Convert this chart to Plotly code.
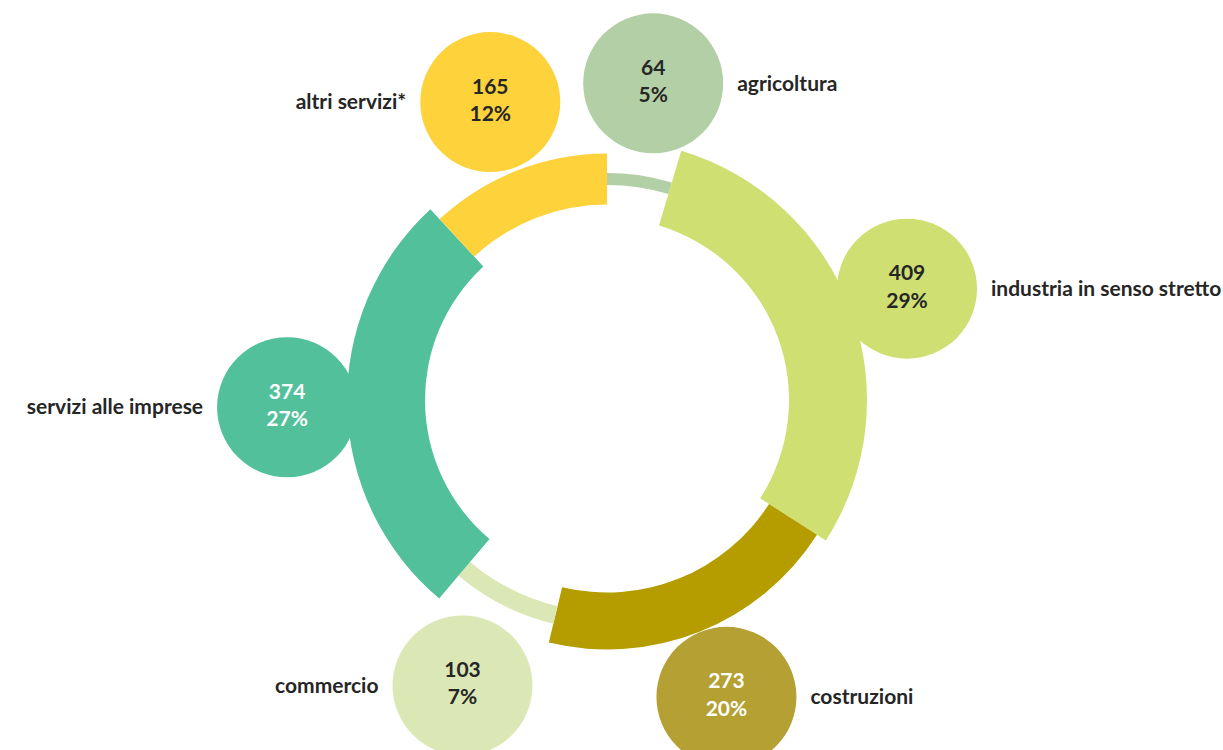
import math
import plotly.graph_objects as go

# Dati: occupati per settore
settori = ["agricoltura", "industria in senso stretto", "costruzioni",
           "commercio", "servizi alle imprese", "altri servizi*"]
valori = [64, 409, 273, 103, 374, 165]
percentuali = [5, 29, 20, 7, 27, 12]

# Stile
colori_arco = ["#b3cfa6", "#cfdf72", "#b59d00", "#dbe8b6", "#52c09a", "#fdd23a"]
colori_bolla = ["#b3cfa6", "#cfdf72", "#b4a033", "#dbe8b6", "#52c09a", "#fdd23a"]
colori_testo = ["#262626", "#262626", "#ffffff", "#262626", "#ffffff", "#262626"]
spessore_arco = [12, 78, 57, 18, 78, 51]

W, H = 1223, 750
CX, CY = 607, 400          # centro dell'anello (px)
R_POLAR = 350              # raggio dell'area polare (px)
R_MEDIO = 221              # raggio medio degli archi
R_BOLLA = 320              # distanza delle bolle dal centro
D_BOLLA = 140              # diametro delle bolle
FONT = "Lato, 'Open Sans', sans-serif"
SCURO = "#262626"

totale = sum(valori)
ang_centro, ang_ampiezza = [], []
cum = 0
for v in valori:
    ang_ampiezza.append(v / totale * 360)
    ang_centro.append((cum + v / 2) / totale * 360)
    cum += v

fig = go.Figure()

# Bolle ed etichette (asse cartesiano in pixel, sotto gli archi)
bx, by, lx, ly, lpos = [], [], [], [], []
for a in ang_centro:
    rad = math.radians(a)
    x = CX + R_BOLLA * math.sin(rad)
    y = CY - R_BOLLA * math.cos(rad)
    bx.append(x)
    by.append(y)
    destra = math.sin(rad) >= 0
    lx.append(x + (D_BOLLA / 2 + 14) * (1 if destra else -1))
    ly.append(y + 2)
    lpos.append("middle right" if destra else "middle left")

fig.add_trace(go.Scatter(
    x=bx, y=by, mode="markers+text",
    marker=dict(size=D_BOLLA, color=colori_bolla, line=dict(width=0), opacity=1),
    text=[f"<b>{v}</b><br><b>{p}%</b>" for v, p in zip(valori, percentuali)],
    textposition="middle center",
    textfont=dict(family=FONT, size=21, color=colori_testo),
    hoverinfo="skip", showlegend=False,
))

fig.add_trace(go.Scatter(
    x=lx, y=ly, mode="text",
    text=[f"<b>{s}</b>" for s in settori],
    textposition=lpos,
    textfont=dict(family=FONT, size=21, color=SCURO),
    hoverinfo="skip", showlegend=False,
))

# Archi dell'anello
fig.add_trace(go.Barpolar(
    theta=ang_centro,
    width=ang_ampiezza,
    r=spessore_arco,
    base=[R_MEDIO - s / 2 for s in spessore_arco],
    marker=dict(color=colori_arco, line=dict(width=0)),
    opacity=1,
    hoverinfo="skip", showlegend=False,
))

fig.update_layout(
    width=W, height=H,
    margin=dict(l=0, r=0, t=0, b=0),
    paper_bgcolor="white", plot_bgcolor="white",
    xaxis=dict(range=[0, W], domain=[0, 1], visible=False, fixedrange=True),
    yaxis=dict(range=[H, 0], domain=[0, 1], visible=False, fixedrange=True),
    polar=dict(
        domain=dict(x=[(CX - R_POLAR) / W, (CX + R_POLAR) / W],
                    y=[(H - CY - R_POLAR) / H, (H - CY + R_POLAR) / H]),
        bgcolor="rgba(0,0,0,0)",
        hole=0,
        radialaxis=dict(range=[0, R_POLAR], visible=False, showgrid=False),
        angularaxis=dict(rotation=90, direction="clockwise", visible=False,
                         showgrid=False, showline=False, ticks=""),
    ),
    bargap=0,
)

fig.write_html("out.html")
